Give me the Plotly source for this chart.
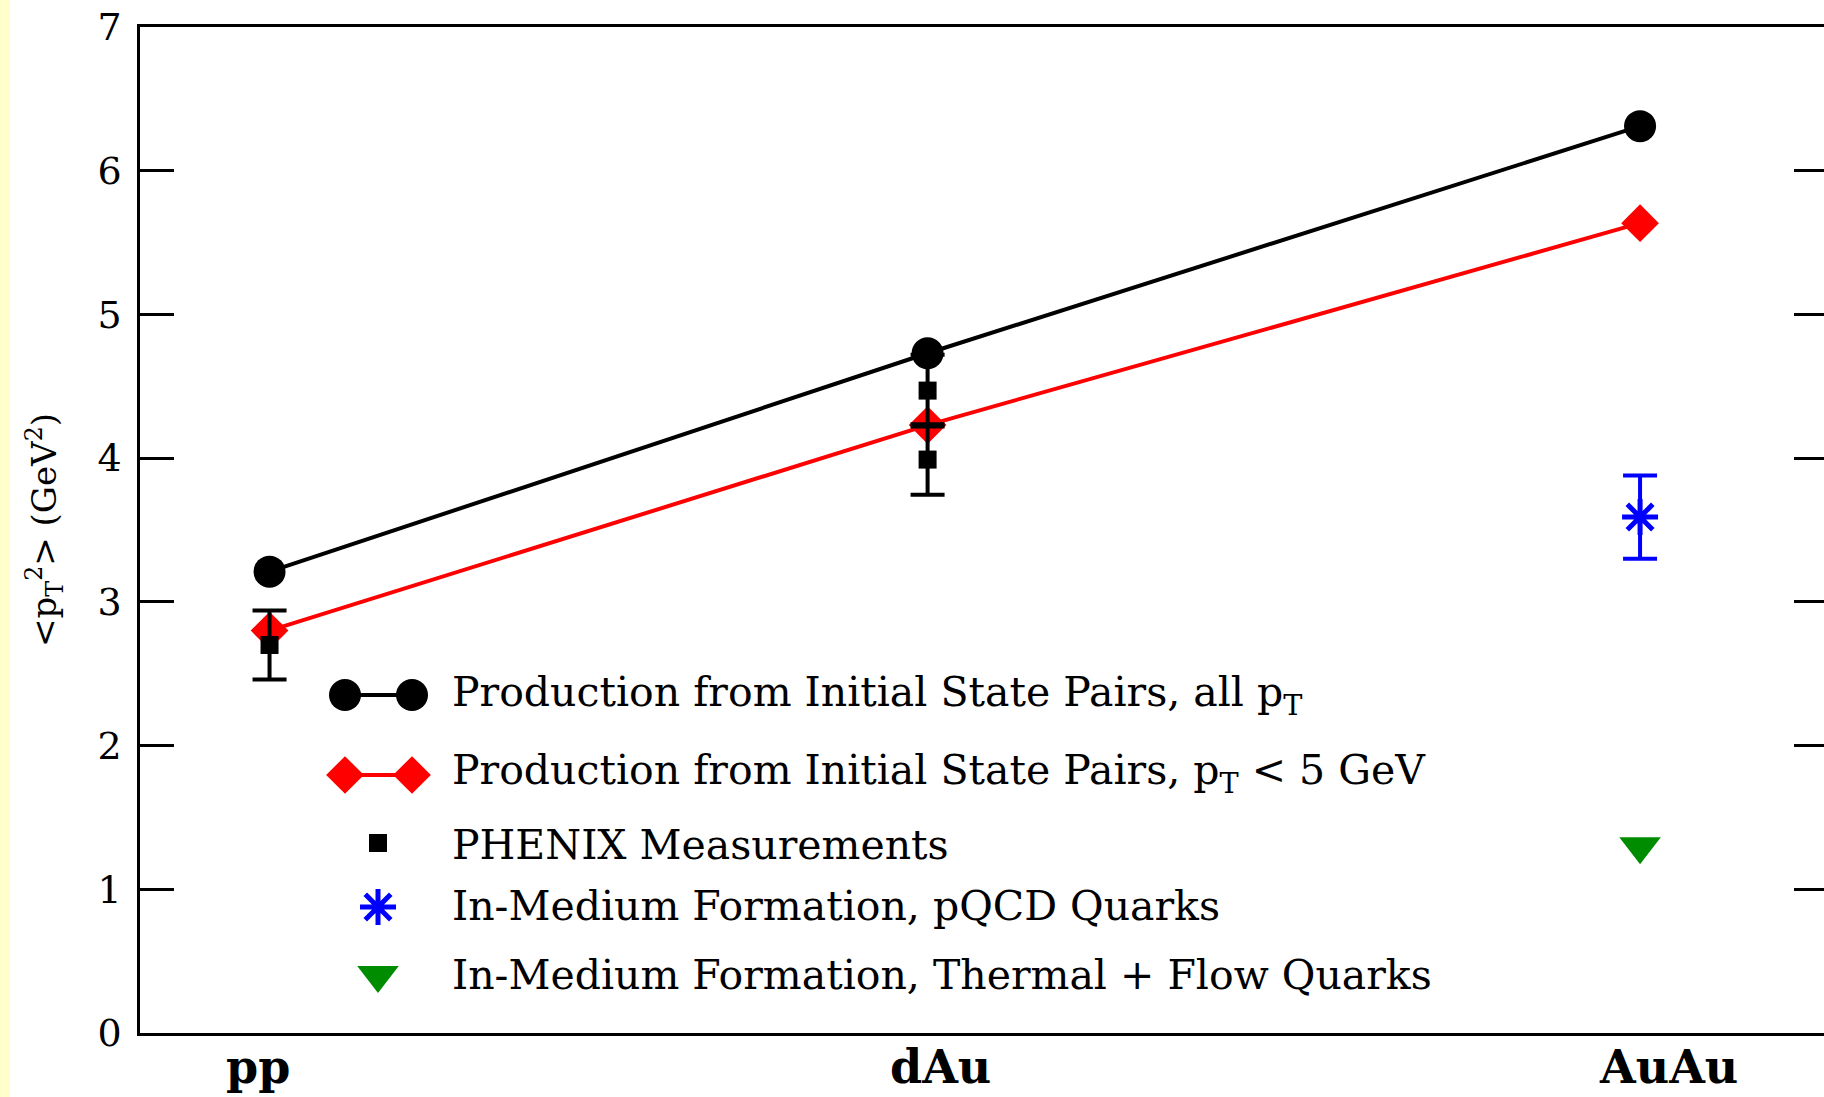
import plotly.graph_objects as go

# ---- data -------------------------------------------------------------
SYSTEMS = ["pp", "dAu", "AuAu"]
SYSTEM_X = [0.5, 3.04, 5.79]          # horizontal position of each collision system
LABEL_X = [0.455, 3.09, 5.90]         # where each system's name is printed

ALL_PT = [3.21, 4.73, 6.31]            # initial-state pairs, all pT
LOW_PT = [2.80, 4.23, 5.635]           # initial-state pairs, pT < 5 GeV

PHENIX_SYS = ["pp", "dAu", "dAu"]
PHENIX_VAL = [2.70, 3.99, 4.47]
PHENIX_ERR = [0.24, 0.245, 0.25]

PQCD_SYS = ["AuAu"]
PQCD_VAL = [3.59]
PQCD_ERR = [0.29]

THERMAL_SYS = ["AuAu"]
THERMAL_VAL = [1.30]

Y_TICKS = [0, 1, 2, 3, 4, 5, 6, 7]

LEGEND_TEXT = [
    "Production from Initial State Pairs, all p<sub>T</sub>",
    "Production from Initial State Pairs, p<sub>T</sub> &lt; 5 GeV",
    "PHENIX Measurements",
    "In-Medium Formation, pQCD Quarks",
    "In-Medium Formation, Thermal + Flow Quarks",
]

# ---- page geometry ----------------------------------------------------
W, H = 1824, 1097
L, R, T, B = 140, 0, 27, 64
plot_w = W - L - R
plot_h = H - T - B
xpos = dict(zip(SYSTEMS, SYSTEM_X))

SERIF = "DejaVu Serif"
GREEN = "#008c00"

fig = go.Figure()

# model curves
fig.add_trace(go.Scatter(
    x=SYSTEM_X, y=LOW_PT, mode="lines+markers",
    line=dict(color="red", width=4),
    marker=dict(symbol="diamond", size=29, color="red"),
    showlegend=False, hoverinfo="skip"))
fig.add_trace(go.Scatter(
    x=SYSTEM_X, y=ALL_PT, mode="lines+markers",
    line=dict(color="black", width=4),
    marker=dict(symbol="circle", size=32, color="black"),
    showlegend=False, hoverinfo="skip"))

# measurements
fig.add_trace(go.Scatter(
    x=[xpos[s] for s in PHENIX_SYS], y=PHENIX_VAL, mode="markers",
    marker=dict(symbol="square", size=18, color="black"),
    error_y=dict(type="data", array=PHENIX_ERR, color="black",
                 thickness=4, width=17),
    showlegend=False, hoverinfo="skip"))

# in-medium formation
fig.add_trace(go.Scatter(
    x=[xpos[s] for s in PQCD_SYS], y=PQCD_VAL, mode="markers",
    marker=dict(symbol="asterisk-open", size=30,
                line=dict(color="blue", width=5), color="blue"),
    error_y=dict(type="data", array=PQCD_ERR, color="blue",
                 thickness=4, width=17),
    showlegend=False, hoverinfo="skip"))
fig.add_trace(go.Scatter(
    x=[xpos[s] for s in THERMAL_SYS], y=THERMAL_VAL, mode="markers",
    marker=dict(symbol="triangle-down", size=36, color=GREEN),
    showlegend=False, hoverinfo="skip"))

# right-hand inward ticks (no spine)
fig.add_trace(go.Scatter(x=[], y=[], xaxis="x", yaxis="y3",
                         showlegend=False, hoverinfo="skip"))

# ---- hand-drawn legend, placed in page pixels via overlay axes ---------
LEG_KEY_X0, LEG_KEY_X1, LEG_KEY_XC = 345, 412, 378
LEG_TEXT_X = 450
LEG_ROW_Y = [695, 773, 845, 906, 975]

fig.add_trace(go.Scatter(
    x=[LEG_KEY_X0, LEG_KEY_X1], y=[LEG_ROW_Y[0]] * 2, xaxis="x2", yaxis="y2",
    mode="lines+markers", line=dict(color="black", width=4),
    marker=dict(symbol="circle", size=32, color="black"),
    showlegend=False, hoverinfo="skip"))
fig.add_trace(go.Scatter(
    x=[LEG_KEY_X0, LEG_KEY_X1], y=[LEG_ROW_Y[1] + 2] * 2, xaxis="x2", yaxis="y2",
    mode="lines+markers", line=dict(color="red", width=4),
    marker=dict(symbol="diamond", size=29, color="red"),
    showlegend=False, hoverinfo="skip"))
fig.add_trace(go.Scatter(
    x=[LEG_KEY_XC], y=[LEG_ROW_Y[2] - 2], xaxis="x2", yaxis="y2", mode="markers",
    marker=dict(symbol="square", size=18, color="black"),
    showlegend=False, hoverinfo="skip"))
fig.add_trace(go.Scatter(
    x=[LEG_KEY_XC], y=[LEG_ROW_Y[3] + 1], xaxis="x2", yaxis="y2", mode="markers",
    marker=dict(symbol="asterisk-open", size=30,
                line=dict(color="blue", width=5), color="blue"),
    showlegend=False, hoverinfo="skip"))
fig.add_trace(go.Scatter(
    x=[LEG_KEY_XC], y=[LEG_ROW_Y[4]], xaxis="x2", yaxis="y2", mode="markers",
    marker=dict(symbol="triangle-down", size=36, color=GREEN),
    showlegend=False, hoverinfo="skip"))

annotations = []
for txt, yy in zip(LEGEND_TEXT, LEG_ROW_Y):
    annotations.append(dict(
        x=LEG_TEXT_X, y=yy, xref="x2", yref="y2", text=txt,
        showarrow=False, xanchor="left", yanchor="middle",
        font=dict(family=SERIF, size=41, color="black")))

# collision-system names under the axis (page row 1067 px)
SYSTEM_LABEL_Y = (H - B - 1067) / plot_h
for name, lx in zip(SYSTEMS, LABEL_X):
    annotations.append(dict(
        x=lx, y=SYSTEM_LABEL_Y, xref="x", yref="paper", text=name,
        showarrow=False, xanchor="center", yanchor="middle",
        font=dict(family=SERIF, size=46, color="black", weight="bold")))

# y-axis title
annotations.append(dict(
    x=(44 - L) / plot_w, y=0.5, xref="paper", yref="paper",
    text="&lt;p<sub>T</sub><sup>2</sup>&gt; (GeV<sup>2</sup>)",
    textangle=-90, showarrow=False, xanchor="center", yanchor="middle",
    font=dict(family=SERIF, size=34, color="black")))

fig.update_layout(
    width=W, height=H,
    margin=dict(l=L, r=R, t=T, b=B, pad=0, autoexpand=False),
    paper_bgcolor="white", plot_bgcolor="white",
    showlegend=False,
    annotations=annotations,
    shapes=[dict(type="rect", xref="paper", yref="paper",
                 x0=(0 - L) / plot_w, x1=(10 - L) / plot_w,
                 y0=-B / plot_h, y1=(plot_h + T) / plot_h,
                 fillcolor="#ffffcc", line=dict(width=0), layer="below")],
    xaxis=dict(
        range=[0, 6.5], showticklabels=False,
        ticks="", showgrid=False, zeroline=False, automargin=False,
        showline=True, linecolor="black", linewidth=2.5, mirror=True),
    yaxis=dict(
        range=[0, 7], tickvals=Y_TICKS, ticktext=[str(v) for v in Y_TICKS],
        ticks="inside", ticklen=34, tickwidth=2.5, tickcolor="black",
        showgrid=False, zeroline=False, automargin=False,
        showline=True, linecolor="black", linewidth=2.5, mirror=False,
        tickfont=dict(family=SERIF, size=38, color="black"),
        ticklabelstandoff=8),
    yaxis3=dict(
        overlaying="y", side="right", anchor="x", automargin=False,
        range=[0, 7], tickvals=Y_TICKS, showticklabels=False,
        ticks="inside", ticklen=30, tickwidth=2.5, tickcolor="black",
        showgrid=False, zeroline=False, showline=False),
    xaxis2=dict(overlaying="x", range=[L, W - R], visible=False),
    yaxis2=dict(overlaying="y", range=[H - B, T], visible=False, anchor="x2"),
)

fig.write_html("out.html")
